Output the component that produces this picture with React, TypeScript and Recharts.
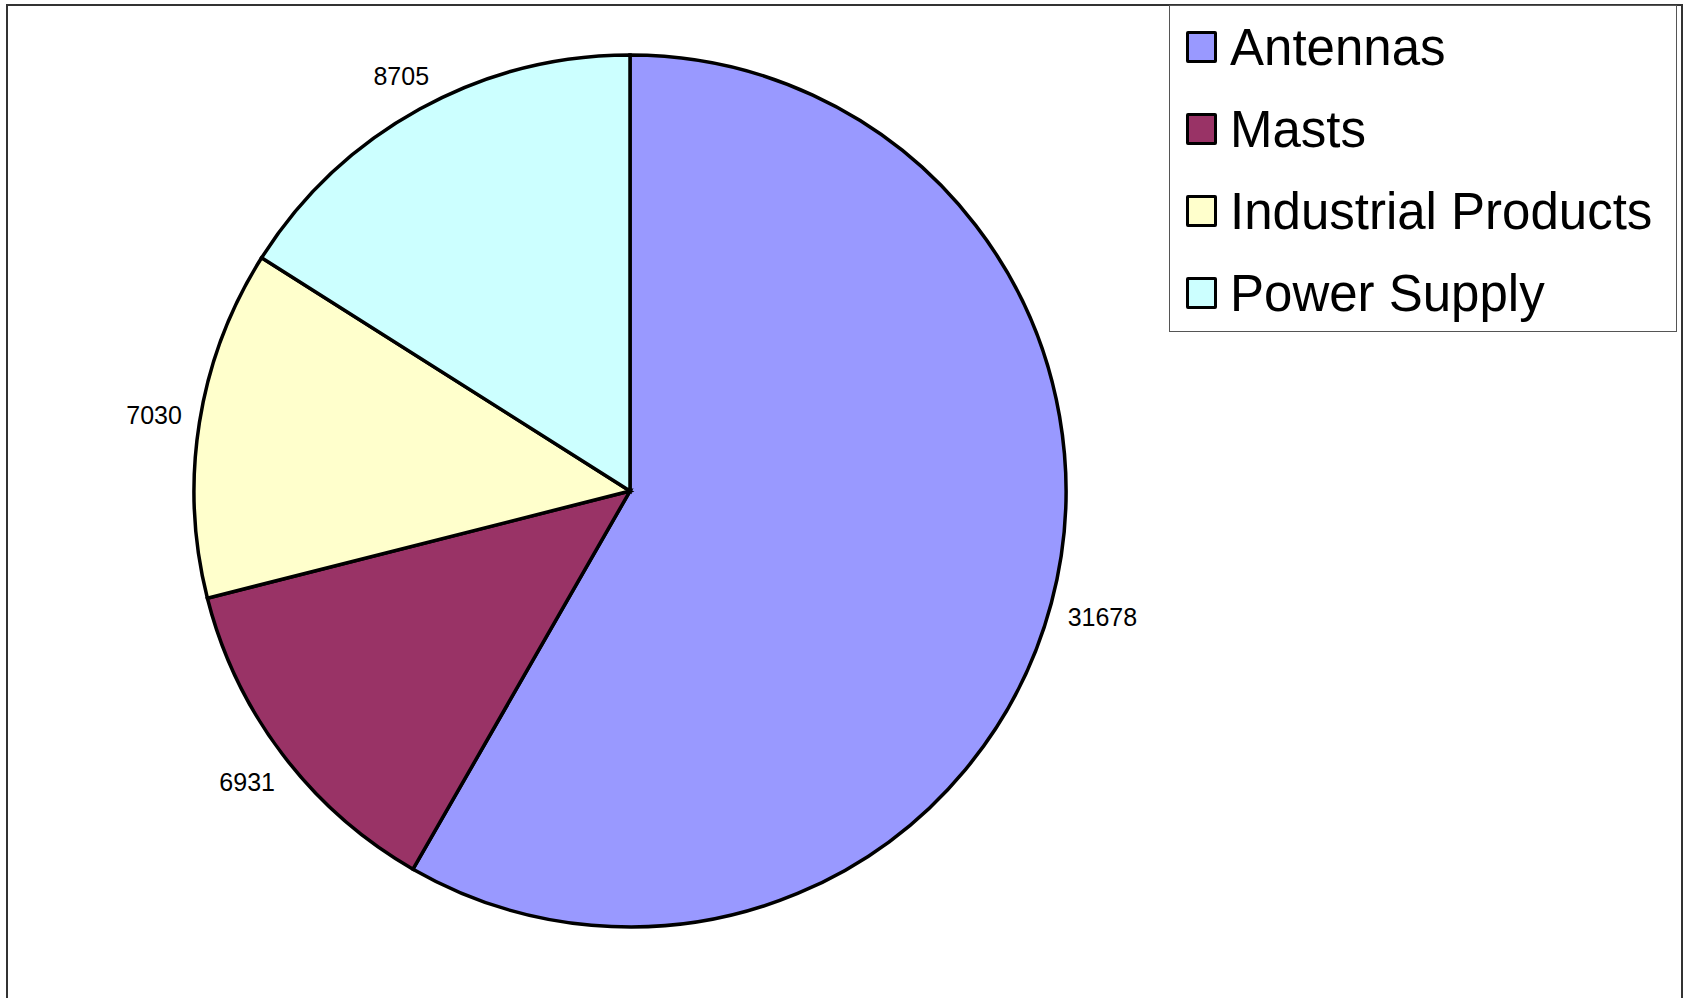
import { PieChart, Pie, Cell, Legend } from "recharts";

const categories = ["Antennas", "Masts", "Industrial Products", "Power Supply"];
const values = [31678, 6931, 7030, 8705];
const colors = ["#9999FF", "#993366", "#FFFFCC", "#CCFFFF"];

const data = categories.map((name, i) => ({ name, value: values[i] }));

const RAD = Math.PI / 180;
const LABEL_SIZE = 25;

// label box sits a fixed gap outside the rim, like Excel's best-fit outside labels
function renderLabel(props: any) {
  const { cx, cy, midAngle, outerRadius, value } = props;
  const cos = Math.cos(-midAngle * RAD);
  const sin = Math.sin(-midAngle * RAD);
  const halfW = (String(value).length * 0.556 * LABEL_SIZE) / 2;
  const halfH = 9;
  const r = outerRadius + 17 + Math.abs(cos) * halfW + Math.abs(sin) * halfH;
  const x = cx + r * cos;
  const y = cy + r * sin;
  return (
    <text
      x={x}
      y={y}
      textAnchor="middle"
      dominantBaseline="central"
      fontSize={LABEL_SIZE}
      fontFamily="'Liberation Sans', Arial, sans-serif"
      fill="#000"
    >
      {value}
    </text>
  );
}

function LegendBox() {
  return (
    <div
      style={{
        width: 508,
        height: 327,
        boxSizing: "border-box",
        border: "1.5px solid #555",
        background: "#fff",
        paddingTop: 0,
        paddingLeft: 16,
        fontFamily: "'Liberation Sans', Arial, sans-serif",
      }}
    >
      {categories.map((name, i) => (
        <div
          key={name}
          style={{ display: "flex", alignItems: "center", height: 82 }}
        >
          <span
            style={{
              display: "inline-block",
              width: 25,
              height: 26,
              background: colors[i],
              border: "3px solid #000",
              borderRadius: 2,
              marginRight: 13,
            }}
          />
          <span style={{ fontSize: 51, color: "#000", lineHeight: 1 }}>
            {name}
          </span>
        </div>
      ))}
    </div>
  );
}

export default function App() {
  return (
    <div
      style={{
        position: "absolute",
        left: 0,
        top: 0,
        width: 1689,
        height: 998,
        background: "#fff",
        overflow: "hidden",
      }}
    >
      <div
        style={{
          position: "absolute",
          left: 6,
          top: 4,
          width: 1677,
          height: 1100,
          boxSizing: "border-box",
          border: "2px solid #333",
        }}
      />
      <div style={{ position: "absolute", left: 0, top: 0 }}>
        <PieChart width={1689} height={998}>
          <Pie
            data={data}
            dataKey="value"
            nameKey="name"
            cx={625}
            cy={486}
            outerRadius={436}
            startAngle={90}
            endAngle={-270}
            stroke="#000"
            strokeWidth={3.5}
            label={renderLabel}
            labelLine={false}
            isAnimationActive={false}
          >
            {data.map((d, i) => (
              <Cell key={d.name} fill={colors[i]} />
            ))}
          </Pie>
          <Legend
            content={() => <LegendBox />}
            wrapperStyle={{ position: "absolute", left: 1169, top: 5, width: 508 }}
          />
        </PieChart>
      </div>
    </div>
  );
}
